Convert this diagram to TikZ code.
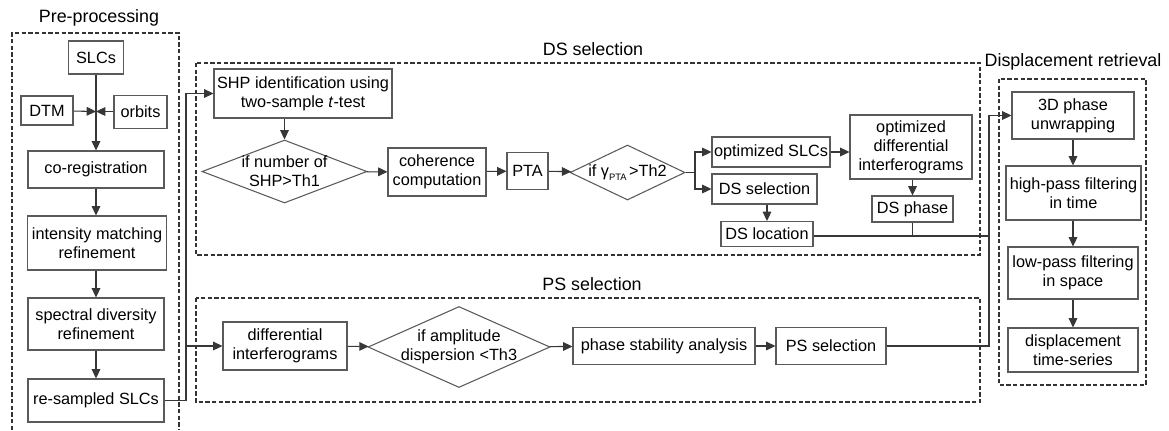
\documentclass[tikz,border=0pt]{standalone}
\usepackage{fontspec}
\setmainfont{Liberation Sans}
\usepackage{tikz}
\usetikzlibrary{arrows.meta,shapes.geometric,calc}
\definecolor{boxgray}{RGB}{90,90,90}
\definecolor{linegray}{RGB}{55,55,55}
\tikzstyle{blk}=[draw=boxgray,line width=0.8pt,rectangle,align=center,inner sep=1pt,font=\fontsize{12.2}{14.2}\selectfont]
\tikzstyle{decision}=[draw=boxgray,line width=0.8pt,diamond,inner sep=0pt]
\tikzstyle{dtext}=[align=center,inner sep=0pt,font=\fontsize{12.2}{14.2}\selectfont]
\tikzstyle{arr}=[draw=linegray,line width=0.8pt,-{Triangle[length=7pt,width=6.5pt]}]
\tikzstyle{ln}=[draw=linegray,line width=0.8pt]
\tikzstyle{group}=[draw=black!80,line width=0.8pt,dash pattern=on 3.2pt off 1.8pt]
\tikzstyle{title}=[font=\fontsize{13.4}{15}\selectfont]

\begin{document}
\begin{tikzpicture}[x=0.75pt,y=-0.75pt]
\useasboundingbox (0,0) rectangle (1169,430);

% dashed frames and their titles
\draw[group] (12,430) -- (12,33) -- (179,33) -- (179,430);
\draw[group] (196,63) rectangle (980,255);
\draw[group] (196,298) rectangle (980,402);
\draw[group] (999,79) rectangle (1146,385);
\node[title] (tpre) at (99,18) {Pre-processing};
\node[title] (tds) at (593,49) {DS selection};
\node[title] (tps) at (592,284) {PS selection};
\node[title] (tdisp) at (1073,62) {Displacement retrieval};

% pre-processing
\node[blk, minimum width=41.25pt, minimum height=24.75pt] (slc) at (96,57.5) {SLCs};
\node[blk, minimum width=39pt, minimum height=21.75pt] (dtm) at (47,110.5) {DTM};
\node[blk, minimum width=39.75pt, minimum height=24.75pt] (orb) at (140.5,112) {orbits};
\coordinate (jn) at (96,111.5);
\node[blk, minimum width=102pt, minimum height=27.75pt] (coreg) at (96,169.5) {co-registration};
\node[blk, minimum width=104.25pt, minimum height=40.5pt] (intens) at (97,243) {intensity matching\\refinement};
\node[blk, minimum width=102pt, minimum height=39pt] (spec) at (96,324) {spectral diversity\\refinement};
\node[blk, minimum width=102pt, minimum height=32.25pt] (resamp) at (96,400.5) {re-sampled SLCs};
\coordinate (b1) at (186,400.5);

% DS selection
\node[blk, minimum width=133.5pt, minimum height=36.75pt] (shp) at (303,93.5) {SHP identification using\\two-sample \textit{t}-test};
\node[decision, minimum width=123.75pt, minimum height=47.25pt,
  label={[dtext]center:if number of\\SHP>Th1}] (d1) at (284.5,171.5) {};
\node[blk, minimum width=73.5pt, minimum height=36pt] (coh) at (437,172) {coherence\\computation};
\node[blk, minimum width=30.75pt, minimum height=27.75pt] (pta) at (527.5,171) {PTA};
\node[decision, minimum width=86.25pt, minimum height=41.25pt,
  label={[dtext]center:if γ\raisebox{-0.55ex}{\fontsize{7}{8}\selectfont PTA}\,>Th2}] (d2) at (627.5,172.5) {};
\coordinate (b2) at (695,172.5);
\node[blk, minimum width=88.5pt, minimum height=22.5pt] (optslc) at (771,152) {optimized SLCs};
\node[blk, minimum width=78.75pt, minimum height=22.5pt] (dssel) at (764.5,189) {DS selection};
\node[blk, minimum width=69pt, minimum height=18.75pt] (dsloc) at (767,234) {DS location};
\node[blk, minimum width=91.5pt, minimum height=48pt] (optdiff) at (911,147) {optimized\\differential\\interferograms};
\node[blk, minimum width=60.75pt, minimum height=19.5pt] (dsph) at (912.5,209) {DS phase};
\coordinate (b3) at (989,236);

% PS selection
\node[blk, minimum width=93pt, minimum height=36pt] (diff) at (285,346) {differential\\interferograms};
\node[decision, minimum width=136.5pt, minimum height=60.75pt,
  label={[dtext]center:if amplitude\\dispersion <Th3}] (d3) at (459,347) {};
\node[blk, minimum width=136.5pt, minimum height=27.75pt] (psa) at (664,346) {phase stability analysis};
\node[blk, minimum width=82.5pt, minimum height=27.75pt] (pssel) at (831,346) {PS selection};

% displacement retrieval
\node[blk, minimum width=91.5pt, minimum height=35.25pt] (unw) at (1073,115.5) {3D phase\\unwrapping};
\node[blk, minimum width=101.25pt, minimum height=40.5pt] (hp) at (1073.5,193) {high-pass filtering\\in time};
\node[blk, minimum width=97.5pt, minimum height=39pt] (lp) at (1073,273) {low-pass filtering\\in space};
\node[blk, minimum width=97.5pt, minimum height=33pt] (disp) at (1073,350) {displacement\\time-series};

% connectors
\draw[ln] (slc) -- (jn);
\draw[arr] (dtm) -- (jn);
\draw[arr] (orb.west |- jn) -- (jn);
\draw[arr] (jn) -- (coreg);
\draw[arr] (coreg) -- (intens.north -| coreg);
\draw[arr] (intens.south -| coreg) -- (spec);
\draw[arr] (spec) -- (resamp);
\draw[arr] (resamp) -- (b1) |- (shp);
\draw[arr] (b1 |- diff) -- (diff);

\draw[arr] (shp.south -| d1) -- (d1);
\draw[arr] (d1) -- (coh);
\draw[arr] (coh) -- (pta);
\draw[arr] (pta) -- (d2);
\draw[ln] (d2) -- (b2);
\draw[arr] (b2) |- (optslc);
\draw[arr] (b2) |- (dssel);
\draw[arr] (optslc) -- (optdiff.west |- optslc);
\draw[arr] (dssel.south -| dsloc) -- (dsloc);
\draw[arr] (optdiff.south -| dsph) -- (dsph);
\draw[ln] (dsloc.east |- b3) -- (b3);
\draw[ln] (dsph) -- (dsph |- b3);
\draw[arr] (b3) |- (unw);

\draw[arr] (diff) -- (d3);
\draw[arr] (d3) -- (psa);
\draw[arr] (psa) -- (pssel);
\draw[ln] (pssel) -| (b3);

\draw[arr] (unw) -- (hp.north -| unw);
\draw[arr] (hp.south -| unw) -- (lp);
\draw[arr] (lp) -- (disp);
\end{tikzpicture}
\end{document}
